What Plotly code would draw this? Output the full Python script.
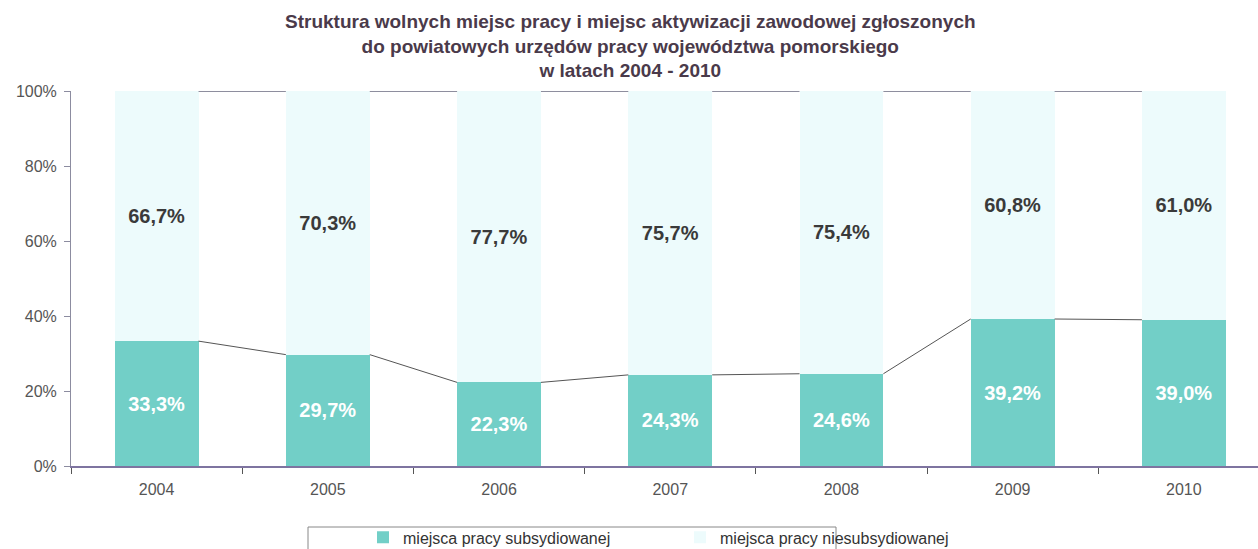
import plotly.graph_objects as go

years = ["2004", "2005", "2006", "2007", "2008", "2009", "2010"]
subsidized = [33.3, 29.7, 22.3, 24.3, 24.6, 39.2, 39.0]
unsubsidized = [66.7, 70.3, 77.7, 75.7, 75.4, 60.8, 61.0]
y_ticks = [0, 20, 40, 60, 80, 100]
y_ticklabels = ["0%", "20%", "40%", "60%", "80%", "100%"]

name_sub = "miejsca pracy subsydiowanej"
name_unsub = "miejsca pracy niesubsydiowanej"
title = ("Struktura wolnych miejsc pracy i miejsc aktywizacji zawodowej zgłoszonych<br>"
         "do powiatowych urzędów pracy województwa pomorskiego<br>"
         "w latach 2004 - 2010")

FONT = "Liberation Sans, Arial, sans-serif"
TEAL = "#72cfc7"
LIGHT = "#edfbfc"
BW = 0.49

xs = list(range(len(years)))

def fmt(v):
    return f"{v:.1f}%".replace(".", ",")

fig = go.Figure()
fig.add_trace(go.Bar(
    x=xs, y=subsidized, name=name_sub, width=BW,
    marker=dict(color=TEAL, line=dict(width=0)),
    text=[fmt(v) for v in subsidized], textposition="inside",
    insidetextanchor="middle",
    textfont=dict(family=FONT, size=20, color="white", weight="bold"),
    hoverinfo="skip",
))
fig.add_trace(go.Bar(
    x=xs, y=unsubsidized, name=name_unsub, width=BW,
    marker=dict(color=LIGHT, line=dict(width=0)),
    text=[fmt(v) for v in unsubsidized], textposition="inside",
    insidetextanchor="middle",
    textfont=dict(family=FONT, size=20, color="#3a3a3a", weight="bold"),
    hoverinfo="skip",
))

# series lines between bars
totals = [a + b for a, b in zip(subsidized, unsubsidized)]
for i in range(len(years) - 1):
    fig.add_trace(go.Scatter(
        x=[xs[i] + BW / 2, xs[i + 1] - BW / 2], y=[subsidized[i], subsidized[i + 1]],
        mode="lines", line=dict(color="#555555", width=1),
        showlegend=False, hoverinfo="skip"))
    fig.add_trace(go.Scatter(
        x=[xs[i] + BW / 2, xs[i + 1] - BW / 2], y=[totals[i], totals[i + 1]],
        mode="lines", line=dict(color="#8e8e9e", width=2),
        showlegend=False, hoverinfo="skip"))

fig.update_layout(
    barmode="stack",
    width=1258, height=549,
    margin=dict(l=71, r=0, t=91, b=83, autoexpand=False),
    paper_bgcolor="white", plot_bgcolor="white",
    font=dict(family=FONT, color="#555555"),
    annotations=[dict(text=title, xref="paper", yref="paper",
                      x=(630 - 71) / 1187, y=(466 - 46) / 375,
                      xanchor="center", yanchor="middle", showarrow=False,
                      font=dict(family=FONT, size=19, color="#4a3a4a", weight="bold"))],
    showlegend=True,
    legend=dict(orientation="h", x=0.246, xanchor="left", y=-0.145, yanchor="top",
                font=dict(family=FONT, size=16, color="#333333"),
                entrywidth=272, bgcolor="rgba(0,0,0,0)", traceorder="normal",
                itemwidth=30),
    xaxis=dict(range=[-0.5, 6.433], tickvals=xs, ticktext=years,
               showgrid=False, zeroline=False, showline=True, automargin=False,
               linecolor="#7e74a0", linewidth=1.5, ticks="", ticklabelstandoff=8,
               tickfont=dict(family=FONT, size=16, color="#555555"),
               minor=dict(tick0=0.5, dtick=1, ticks="outside", ticklen=6,
                          tickcolor="#555555", showgrid=False)),
    yaxis=dict(range=[0, 100], tickvals=y_ticks, ticktext=y_ticklabels,
               showgrid=False, zeroline=False, showline=True, automargin=False,
               linecolor="#8c8ca0", linewidth=1, ticks="outside", ticklen=6,
               tickcolor="#8c8ca0", ticklabelstandoff=4,
               tickfont=dict(family=FONT, size=16, color="#555555")),
    shapes=[dict(type="rect", xref="paper", yref="paper",
                 x0=(308 - 71) / 1187, x1=(836 - 71) / 1187,
                 y0=(466 - 527) / 375, y1=(466 - 560) / 375,
                 line=dict(color="#888888", width=1), fillcolor="rgba(0,0,0,0)")],
)

fig.write_html("out.html", config={"displayModeBar": False},
               post_script="document.body.style.margin='0';document.body.style.overflow='hidden';")
